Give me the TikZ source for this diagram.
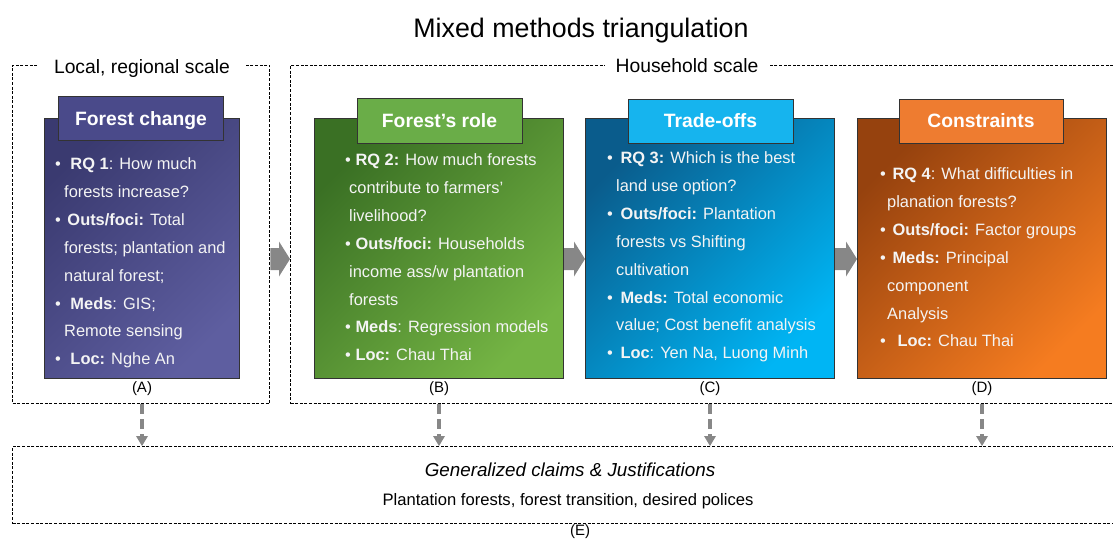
\documentclass[tikz,border=0pt]{standalone}
\usepackage{fontspec}
\setmainfont{Liberation Sans}
\usetikzlibrary{arrows.meta,calc}
\newcommand\fsz[1]{\fontsize{#1}{#1}\selectfont}
\newcommand\bul[1]{\textbullet\ \hspace*{#1pt}}
\definecolor{aDark}{HTML}{3A3A70}
\definecolor{aLight}{HTML}{5E5EA0}
\definecolor{aTab}{HTML}{4A4A8A}
\definecolor{bDark}{HTML}{3A7024}
\definecolor{bLight}{HTML}{74B444}
\definecolor{bTab}{HTML}{6AAD48}
\definecolor{cDark}{HTML}{0A5C8C}
\definecolor{cLight}{HTML}{00B5F4}
\definecolor{cTab}{HTML}{16B4EE}
\definecolor{dDark}{HTML}{96420E}
\definecolor{dLight}{HTML}{F57C20}
\definecolor{dTab}{HTML}{EE7C30}
\definecolor{arrowgray}{HTML}{878787}
\definecolor{boxtext}{HTML}{F4F4F4}
\begin{document}
\begin{tikzpicture}[x=1pt,y=-1pt,
  dbox/.style={draw=black, line width=1.3pt, dash pattern=on 3pt off 1.6pt, inner sep=0pt, anchor=north west},
  mbox/.style={draw=black!80, line width=1pt, inner sep=0pt, anchor=north west, minimum height=260pt},
  tabbox/.style={draw=black!80, line width=1pt, inner sep=0pt, minimum width=165pt, minimum height=44pt, text=white, font=\fsz{19.3}\bfseries, text height=13.8pt, text depth=0pt},
  ln/.style={anchor=base west, inner sep=0pt, text=boxtext, font=\fsz{16.4}},
  lbl/.style={anchor=base, inner sep=0pt, font=\fsz{15}},
  scalelbl/.style={anchor=base, fill=white, inner xsep=13pt, inner ysep=2pt, font=\fsz{19.3}},
  vdash/.style={draw=arrowgray, line width=4pt, dash pattern=on 10pt off 5pt, -{Triangle[length=10pt,width=12pt,line width=0pt]}},
  blk/.style={fill=arrowgray}
]
\useasboundingbox (0,0) rectangle (1113,539);

% title
\node[anchor=base, inner sep=0pt, font=\fsz{26.8}] (title) at (581,37) {Mixed methods triangulation};

% dashed scale boxes
\node[dbox, minimum width=257pt, minimum height=338.5pt] (local) at (12,64.5) {};
\node[dbox, minimum width=840pt, minimum height=338.5pt] (household) at (290,64.5) {};
\node[scalelbl, inner xsep=15pt] (loclbl) at (142,73) {Local, regional scale};
\node[scalelbl, inner xsep=11pt] (hhlbl) at (687,72.5) {Household scale};

% bottom box
\node[dbox, minimum width=1120pt, minimum height=77pt] (Ebox) at (12,446) {};
\node[anchor=base, inner sep=0pt, font=\fsz{18.8}\itshape] (gen) at (570,476) {Generalized claims \& Justifications};
\node[anchor=base, inner sep=0pt, font=\fsz{16.6}] (plant) at (568,505) {Plantation forests, forest transition, desired polices};
\node[lbl] (labE) at (580,535) {(E)};

% main boxes
\node[mbox, minimum width=195pt, top color=aDark, bottom color=aLight, shading angle=45] (boxA) at (44,118) {};
\node[mbox, minimum width=249pt, top color=bDark, bottom color=bLight, shading angle=45] (boxB) at (314,118) {};
\node[mbox, minimum width=249pt, top color=cDark, bottom color=cLight, shading angle=45] (boxC) at (585,118) {};
\node[mbox, minimum width=249pt, top color=dDark, bottom color=dLight, shading angle=45] (boxD) at (857,118) {};

% tabs
\node[tabbox, fill=aTab] (tabA) at (141,118.7) {Forest change};
\node[tabbox, fill=bTab, minimum height=45pt] (tabB) at (439.5,120.5) {Forest’s role};
\node[tabbox, fill=cTab] (tabC) at (710.5,121) {Trade-offs};
\node[tabbox, fill=dTab, minimum width=164pt] (tabD) at (981,121) {Constraints};

% box texts
\foreach \dx/\t [count=\i] in {
  0/{\bul{5}\textbf{RQ 1}: How much},
  9/{forests increase?},
  0/{\bul{2}\textbf{Outs/foci:} Total},
  9/{forests; plantation and},
  9/{natural forest;},
  0/{\bul{5}\textbf{Meds}: GIS;},
  9/{Remote sensing},
  0/{\bul{5}\textbf{Loc:} Nghe An}}
  \node[ln] (A\i) at (55+\dx,169.5+27.9*\i-27.9) {\t};

\foreach \dx/\t [count=\i] in {
  0/{\bul{0}\textbf{RQ 2:} How much forests},
  4/{contribute to farmers’},
  4/{livelihood?},
  0/{\bul{0}\textbf{Outs/foci:} Households},
  4/{income ass/w plantation},
  4/{forests},
  0/{\bul{0}\textbf{Meds}: Regression models},
  0/{\bul{0}\textbf{Loc:} Chau Thai}}
  \node[ln] (B\i) at (345+\dx,165.5+27.9*\i-27.9) {\t};

\foreach \dx/\t [count=\i] in {
  0/{\bul{3}\textbf{RQ 3:} Which is the best},
  9/{land use option?},
  0/{\bul{3}\textbf{Outs/foci:} Plantation},
  9/{forests vs Shifting},
  9/{cultivation},
  0/{\bul{3}\textbf{Meds:} Total economic},
  9/{value; Cost benefit analysis},
  0/{\bul{3}\textbf{Loc}: Yen Na, Luong Minh}}
  \node[ln] (C\i) at (607+\dx,163.5+27.9*\i-27.9) {\t};

\foreach \dx/\t [count=\i] in {
  0/{\bul{2}\textbf{RQ 4}: What difficulties in},
  7/{planation forests?},
  0/{\bul{2}\textbf{Outs/foci:} Factor groups},
  0/{\bul{2}\textbf{Meds:} Principal},
  7/{component},
  7/{Analysis},
  0/{\bul{7}\textbf{Loc:} Chau Thai}}
  \node[ln] (D\i) at (880+\dx,179.5+27.9*\i-27.9) {\t};

% letters under boxes
\node[lbl] (labA) at (boxA.south |- 0,392) {(A)};
\node[lbl] (labB) at (boxB.south |- 0,392) {(B)};
\node[lbl] (labC) at (boxC.south |- 0,392) {(C)};
\node[lbl] (labD) at (boxD.south |- 0,392) {(D)};

% block arrows
\coordinate (ay) at (0,259);
\coordinate (p1) at (local.east |- ay);  \coordinate (q1) at (household.west |- ay);
\coordinate (p2) at (boxB.east |- ay);   \coordinate (q2) at (boxC.west |- ay);
\coordinate (p3) at (boxC.east |- ay);   \coordinate (q3) at (boxD.west |- ay);
\foreach \i in {1,2,3}
  \fill[blk] ($(p\i)+(0,-11)$) -- ($(q\i)+(-11,-11)$) -- ($(q\i)+(-11,-17.5)$) -- (q\i)
    -- ($(q\i)+(-11,17.5)$) -- ($(q\i)+(-11,11)$) -- ($(p\i)+(0,11)$) -- cycle;

% dashed down arrows
\foreach \b in {boxA,boxB,boxC,boxD}
  \draw[vdash] (\b.south |- local.south) -- (\b.south |- Ebox.north);
\end{tikzpicture}
\end{document}
